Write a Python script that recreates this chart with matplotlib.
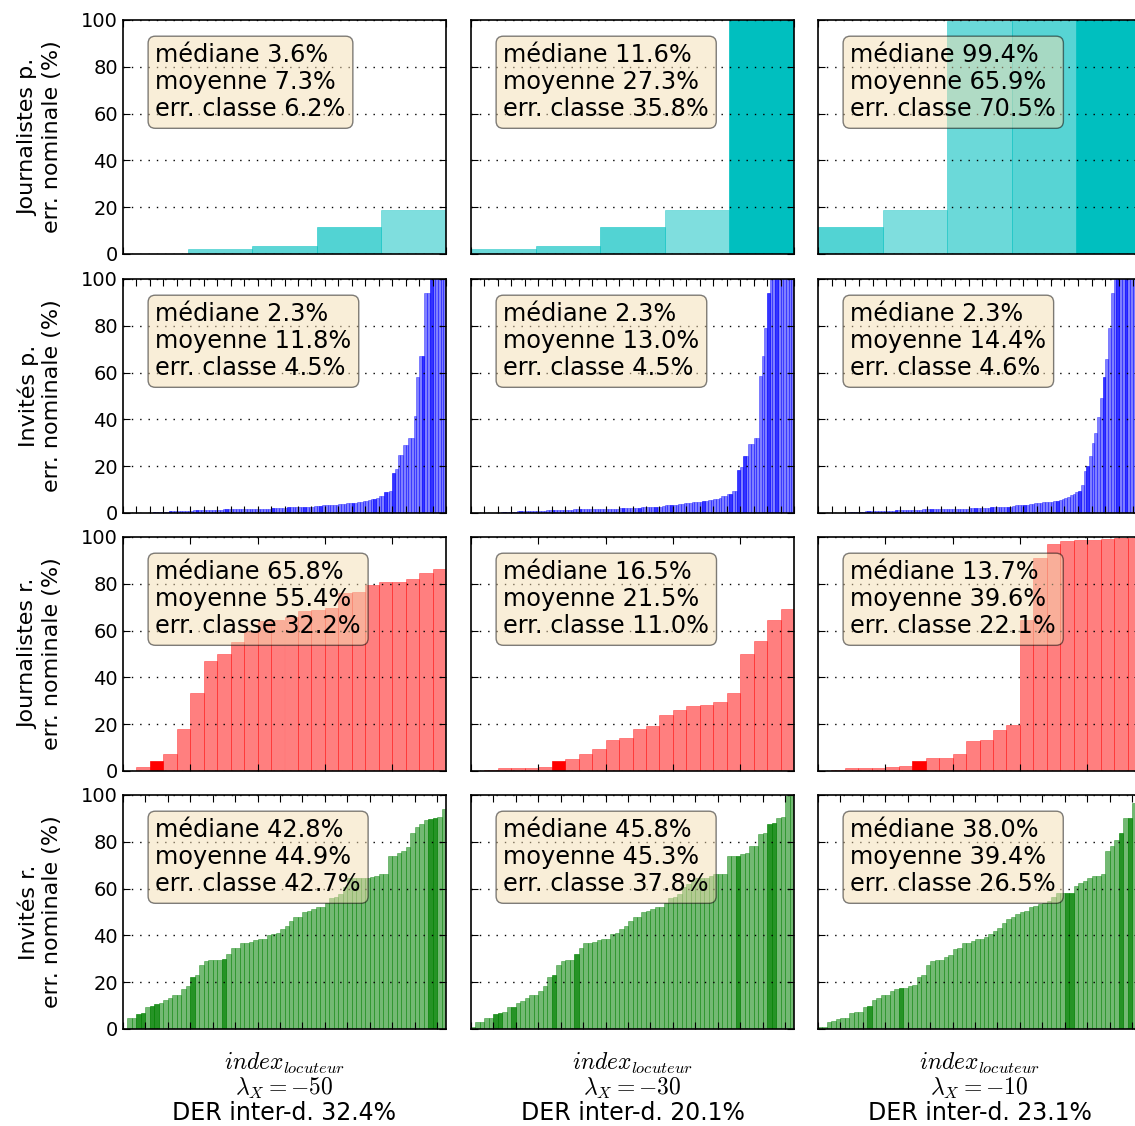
import numpy as np
import matplotlib
matplotlib.use('Agg')
import matplotlib.pyplot as plt
from matplotlib.colors import to_rgba

plt.rcParams['font.family'] = 'DejaVu Sans'
plt.rcParams['mathtext.fontset'] = 'cm'
plt.rcParams['xtick.direction'] = 'in'
plt.rcParams['ytick.direction'] = 'in'
plt.rcParams['xtick.top'] = True
plt.rcParams['ytick.right'] = True
plt.rcParams['xtick.major.size'] = 5
plt.rcParams['ytick.major.size'] = 5
plt.rcParams['axes.linewidth'] = 1.2

# row labels / colors, column parameters
row_labels = ['Journalistes p.\nerr. nominale (%)', 'Invités p.\nerr. nominale (%)',
              'Journalistes r.\nerr. nominale (%)', 'Invités r.\nerr. nominale (%)']
row_colors = ['c', 'b', 'r', 'g']
lambdas = [-50, -30, -10]
der_inter = [32.4, 20.1, 23.1]

# stats boxes: (mediane, moyenne, err. classe) for each row, column
stats = [
    [(3.6, 7.3, 6.2), (11.6, 27.3, 35.8), (99.4, 65.9, 70.5)],
    [(2.3, 11.8, 4.5), (2.3, 13.0, 4.5), (2.3, 14.4, 4.6)],
    [(65.8, 55.4, 32.2), (16.5, 21.5, 11.0), (13.7, 39.6, 22.1)],
    [(42.8, 44.9, 42.7), (45.8, 45.3, 37.8), (38.0, 39.4, 26.5)],
]

# Journalistes p. (5 speakers) - error per speaker, sorted, and speaker weight
journ_p = [
    [0.0, 2.3, 3.6, 11.7, 18.9],
    [2.3, 3.6, 11.6, 18.9, 100.0],
    [11.6, 18.9, 99.4, 99.8, 99.8],
]
journ_p_w = [
    [1.0, 0.58, 0.64, 0.68, 0.5],
    [0.58, 0.64, 0.68, 0.5, 1.0],
    [0.68, 0.5, 0.58, 0.66, 1.0],
]

# Invités p. (120 speakers)
invit_p = [
    [0.0, 0.0, 0.0, 0.0, 0.0, 0.1, 0.1, 0.1, 0.2, 0.2, 0.2, 0.4, 0.4, 0.4, 0.4, 0.5, 0.5,
     0.8, 0.9, 0.9, 0.9, 1.0, 1.0, 1.0, 1.0, 1.0, 1.1, 1.1, 1.1, 1.1,
     1.3, 1.4, 1.4, 1.4, 1.4, 1.4, 1.4, 1.5, 1.5,
     1.6, 1.6, 1.6, 1.7, 1.7, 1.7, 1.7, 1.7, 1.7, 1.7, 1.8, 1.8, 1.8, 1.8, 1.8, 1.9,
     2.1, 2.2, 2.3, 2.3, 2.3, 2.3, 2.4, 2.4, 2.4, 2.5, 2.5, 2.5, 2.5, 2.6, 2.6, 2.6,
     3.0, 3.0, 3.2, 3.3, 3.3, 3.3, 3.3, 3.4, 3.4, 3.7, 3.7, 4.0, 4.1, 4.1, 4.4, 4.4,
     4.7, 4.7, 5.0, 5.0, 5.4, 6.0, 6.0, 6.4, 7.3, 7.3, 9.0, 9.0, 9.3,
     17.0, 18.7, 24.6, 24.6, 29.0, 29.0, 32.0, 32.0, 41.5, 58.0, 67.0, 67.0, 94.0, 94.0,
     100.0, 100.0, 100.0, 100.0, 100.0, 100.0],
    [0.0, 0.0, 0.0, 0.0, 0.1, 0.1, 0.1, 0.1, 0.2, 0.2, 0.2, 0.4, 0.4, 0.4, 0.4, 0.5, 0.5,
     0.8, 0.9, 0.9, 0.9, 0.9, 0.9, 1.0, 1.0, 1.0, 1.0, 1.0,
     1.2, 1.3, 1.3, 1.3, 1.3, 1.3, 1.3, 1.4, 1.4, 1.4,
     1.5, 1.6, 1.6, 1.6, 1.6, 1.6, 1.6, 1.6, 1.7, 1.7, 1.7, 1.7, 1.7, 1.7, 1.8, 1.8, 1.8,
     2.0, 2.1, 2.1, 2.1, 2.2, 2.2, 2.3, 2.3, 2.4, 2.4, 2.4, 2.4, 2.5, 2.5, 2.5, 2.6,
     3.2, 3.3, 3.3, 3.3, 3.4, 3.4, 4.0, 4.0, 4.3, 4.4, 4.4, 4.5, 4.6, 4.7, 4.8,
     5.0, 5.1, 5.6, 5.7, 6.0, 6.1, 6.2, 7.3, 7.3, 8.0, 8.0, 9.3, 9.4,
     18.5, 19.7, 24.4, 24.4, 29.6, 29.6, 32.0, 32.0, 58.4, 67.0, 79.0, 94.0,
     100.0, 100.0, 100.0, 100.0, 100.0, 100.0, 100.0, 100.0, 100.0],
    [0.0, 0.0, 0.0, 0.0, 0.1, 0.1, 0.1, 0.1, 0.2, 0.2, 0.2, 0.4, 0.4, 0.4, 0.4, 0.5, 0.5,
     0.8, 0.9, 0.9, 0.9, 0.9, 0.9, 1.0, 1.0, 1.0, 1.0, 1.0,
     1.2, 1.3, 1.3, 1.3, 1.3, 1.3, 1.3, 1.4, 1.4, 1.4,
     1.5, 1.6, 1.6, 1.6, 1.6, 1.6, 1.6, 1.6, 1.7, 1.7, 1.7, 1.7, 1.7, 1.7, 1.8, 1.8, 1.8,
     2.0, 2.1, 2.1, 2.1, 2.2, 2.2, 2.3, 2.3, 2.4, 2.4, 2.4, 2.4, 2.5, 2.5, 2.5, 2.6,
     3.2, 3.3, 3.3, 3.3, 3.4, 3.4, 4.0, 4.0, 4.3, 4.4, 4.4, 4.5, 4.6, 4.7, 4.8,
     5.0, 5.1, 5.6, 6.0, 6.5, 7.0, 7.5, 8.0, 9.0, 9.5, 12.0, 18.0, 20.0,
     24.5, 30.0, 34.0, 41.0, 49.0, 58.0, 66.0, 79.0, 94.0, 100.0,
     100.0, 100.0, 100.0, 100.0, 100.0, 100.0, 100.0, 100.0, 100.0],
]
invit_p_dark = [
    [11, 17, 27, 38, 55, 61, 67, 73, 85, 93, 97, 100, 111, 114],
    [12, 18, 30, 40, 56, 62, 68, 74, 86, 96, 99, 101, 110, 113],
    [10, 18, 28, 41, 57, 63, 69, 75, 87, 95, 98, 104, 109, 112],
]

# Journalistes r. (24 speakers)
journ_r = [
    [0.0, 1.7, 4.3, 7.3, 18.0, 33.4, 47.0, 50.0, 55.3, 60.0, 64.0, 64.5, 65.8, 68.5,
     69.0, 69.5, 76.0, 76.5, 79.4, 80.7, 80.7, 82.0, 84.6, 86.4],
    [0.0, 0.6, 1.3, 1.3, 1.3, 1.7, 4.3, 5.1, 7.3, 9.4, 13.3, 14.1, 18.0, 19.3, 24.0,
     26.1, 27.9, 28.3, 29.6, 33.4, 50.1, 55.7, 64.7, 69.4],
    [0.0, 0.6, 1.3, 1.3, 1.3, 1.7, 2.1, 4.3, 5.6, 5.6, 7.3, 12.9, 13.3, 17.6, 19.7,
     64.7, 91.0, 97.1, 98.1, 98.6, 98.7, 99.0, 99.4, 99.4],
]
journ_r_mark = [2, 6, 7]   # speaker drawn in full red

# Invités r. (72 speakers)
invit_r = [
    [0.0, 4.6, 4.6, 6.5, 6.8, 9.4, 10.0, 10.7, 11.1, 12.4, 13.2, 14.5, 14.5, 17.0, 18.3,
     22.2, 23.0, 27.2, 29.0, 29.4, 29.4, 29.4, 29.9, 32.0, 34.6, 34.6, 36.7, 36.7, 37.1,
     38.0, 38.3, 38.3, 40.3, 40.5, 41.1, 42.8, 44.1, 46.2, 47.7, 47.7, 49.8, 50.5, 51.2,
     52.3, 52.3, 54.0, 55.9, 56.2, 57.6, 60.7, 64.4, 64.4, 64.4, 64.4, 64.4, 65.1, 65.4,
     66.1, 66.1, 74.0, 74.0, 75.4, 76.1, 77.8, 83.9, 86.5, 87.5, 89.2, 89.9, 90.3, 90.6,
     93.9],
    [0.7, 3.1, 3.1, 4.7, 4.7, 6.4, 7.0, 7.3, 9.5, 9.5, 11.1, 12.1, 13.2, 14.5, 14.5,
     16.4, 18.5, 22.3, 23.0, 27.3, 29.0, 29.4, 29.4, 32.0, 34.6, 36.7, 36.7, 37.1, 38.0,
     38.3, 38.3, 40.5, 41.1, 42.8, 44.1, 46.2, 47.7, 47.7, 49.8, 50.5, 51.2, 52.3, 52.3,
     54.0, 55.9, 56.2, 57.6, 60.5, 61.9, 63.3, 64.7, 64.7, 64.7, 65.4, 66.1, 66.1, 66.1,
     74.0, 74.0, 74.0, 74.7, 75.4, 78.2, 78.2, 83.2, 83.9, 87.8, 87.9, 90.3, 90.6, 99.5,
     100.0],
    [0.7, 1.0, 3.0, 3.6, 4.3, 4.7, 4.7, 6.7, 7.1, 7.1, 9.2, 9.8, 12.4, 13.2, 14.5, 14.5,
     16.1, 17.2, 17.5, 17.5, 18.3, 18.8, 22.3, 23.0, 27.3, 29.2, 29.4, 29.4, 30.9, 31.6,
     34.1, 34.7, 36.6, 36.7, 37.4, 38.3, 38.3, 39.4, 40.5, 42.0, 43.0, 45.1, 46.9, 47.7,
     49.1, 50.1, 50.5, 52.3, 52.5, 53.3, 54.0, 54.8, 56.2, 58.0, 58.0, 58.0, 58.0, 61.2,
     62.3, 63.3, 64.7, 65.3, 65.3, 66.1, 76.1, 78.2, 80.7, 83.6, 90.3, 90.3, 96.7, 100.0],
]
invit_r_dark = [
    [3, 4, 6, 7, 15, 22, 68, 69],
    [5, 6, 9, 18, 23, 59, 66, 67],
    [11, 18, 55, 56, 67, 69],
]


def panel_alphas(n, base, dark, dark_alpha):
    a = [base] * n
    for i in dark:
        if i < n:
            a[i] = dark_alpha
    return a


fig = plt.figure(figsize=(11.35, 11.26), dpi=100)
W, H = 1135.0, 1126.0
col_left = [123, 471, 818]
row_top = [20, 279, 537, 795]
aw, ah = 323, 234

for r in range(4):
    for c in range(3):
        ax = fig.add_axes([col_left[c] / W, 1 - (row_top[r] + ah) / H, aw / W, ah / H])
        if r == 0:
            vals = journ_p[c]
            alphas = journ_p_w[c]
        elif r == 1:
            vals = invit_p[c]
            alphas = panel_alphas(len(vals), 0.5, invit_p_dark[c], 0.8)
        elif r == 2:
            vals = journ_r[c]
            alphas = panel_alphas(len(vals), 0.5, [journ_r_mark[c]], 1.0)
        else:
            vals = invit_r[c]
            alphas = panel_alphas(len(vals), 0.55, invit_r_dark[c], 0.85)
        n = len(vals)
        cols = [to_rgba(row_colors[r], a) for a in alphas]
        ax.bar(np.arange(n), vals, width=1, align='edge', color=cols,
               edgecolor=cols, linewidth=0.5)
        ax.set_xlim(0, n)
        ax.set_ylim(0, 100)
        ax.set_xticks(np.arange(0, n + 1, 5))
        ax.set_xticklabels([])
        ax.set_yticks([0, 20, 40, 60, 80, 100])
        ax.yaxis.grid(True, linestyle=(0, (1, 5)), color='k', linewidth=1)
        if c == 0:
            ax.tick_params(axis='y', labelsize=14)
            ax.set_ylabel(row_labels[r], fontsize=16, labelpad=14)
        else:
            ax.set_yticklabels([])
        med, moy, err = stats[r][c]
        ax.text(0.1, 0.9, 'médiane %.1f%%\nmoyenne %.1f%%\nerr. classe %.1f%%' % (med, moy, err),
                transform=ax.transAxes, fontsize=17.3, va='top', linespacing=1.15,
                bbox=dict(boxstyle='round', facecolor='wheat', alpha=0.5))
        if r == 3:
            ax.set_xlabel('$index_{locuteur}$\n$\\lambda_X=%d$\nDER inter-d. %.1f%%'
                          % (lambdas[c], der_inter[c]), fontsize=17, labelpad=12,
                          linespacing=1.02)

fig.savefig('out.png', dpi=100)
